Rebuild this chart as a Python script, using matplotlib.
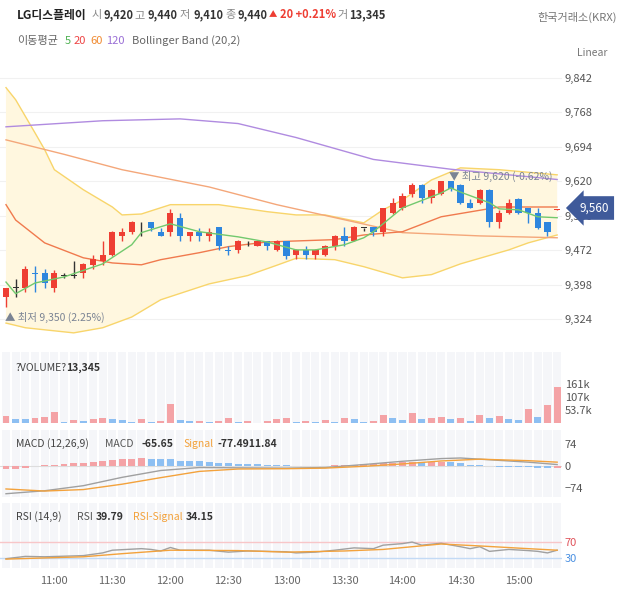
import numpy as np
import matplotlib.pyplot as plt

plt.rcParams['font.family'] = ['Noto Sans CJK KR', 'DejaVu Sans']

# 5-minute candles, 10:35 ~ 15:20
opens = [9372, 9391, 9392, 9423, 9423, 9391, 9418, 9418, 9423, 9441,
         9450, 9462, 9502, 9512, 9532, 9532, 9512, 9512, 9541, 9502,
         9512, 9502, 9523, 9473, 9472, 9491, 9482, 9492, 9473, 9492,
         9462, 9473, 9462, 9462, 9482, 9503, 9493, 9520, 9522, 9511,
         9553, 9562, 9592, 9612, 9584, 9593, 9620, 9612, 9573, 9573,
         9602, 9532, 9553, 9582, 9562, 9553, 9532, 9558]
highs = [9391, 9410, 9439, 9439, 9432, 9430, 9423, 9450, 9445, 9462,
         9492, 9514, 9521, 9534, 9532, 9532, 9521, 9560, 9552, 9512,
         9521, 9521, 9523, 9482, 9494, 9492, 9492, 9492, 9494, 9492,
         9475, 9482, 9475, 9484, 9505, 9522, 9524, 9521, 9522, 9563,
         9584, 9596, 9616, 9614, 9604, 9620, 9620, 9614, 9582, 9604,
         9604, 9559, 9582, 9584, 9563, 9562, 9532, 9560]
lows = [9350, 9372, 9382, 9382, 9392, 9382, 9413, 9413, 9413, 9432,
        9441, 9460, 9491, 9507, 9502, 9514, 9502, 9503, 9492, 9492,
        9492, 9492, 9473, 9462, 9466, 9482, 9482, 9472, 9470, 9453,
        9453, 9453, 9453, 9460, 9473, 9482, 9491, 9513, 9503, 9502,
        9551, 9559, 9586, 9573, 9573, 9591, 9600, 9571, 9562, 9571,
        9523, 9519, 9551, 9551, 9531, 9518, 9503, 9558]
closes = [9391, 9391, 9432, 9421, 9403, 9423, 9418, 9418, 9443, 9454,
          9462, 9512, 9512, 9532, 9532, 9521, 9502, 9552, 9502, 9512,
          9502, 9512, 9482, 9471, 9492, 9491, 9492, 9482, 9492, 9460,
          9473, 9462, 9473, 9482, 9503, 9493, 9522, 9520, 9511, 9562,
          9573, 9589, 9612, 9584, 9602, 9620, 9603, 9573, 9562, 9602,
          9532, 9553, 9573, 9553, 9553, 9520, 9512, 9560]

volume = [28, 17, 17, 21, 24, 45, 6, 13, 10, 17, 21, 17, 13, 6, 17, 6, 10, 80,
          13, 10, 10, 6, 10, 21, 6, 10, 1, 10, 17, 21, 6, 10, 6, 13, 6, 21,
          17, 6, 10, 35, 21, 13, 41, 17, 21, 25, 17, 21, 10, 35, 21, 28, 17,
          13, 59, 25, 75, 152]
vol_up = [1, 0, 0, 1, 1, 1, 0, 1, 0, 1, 1, 0, 0, 0, 1, 0, 1, 1, 0, 0, 1, 0,
          1, 1, 0, 1, 0, 1, 1, 1, 0, 1, 0, 1, 0, 1, 0, 0, 1, 1, 0, 0, 1, 0,
          1, 1, 0, 1, 0, 1, 0, 1, 0, 0, 1, 0, 1, 1]

# moving averages / bollinger (candle index, price)
ma5_idx = [0, 1, 3, 6, 10, 13, 14, 17, 20, 24, 27, 30, 32, 35, 37, 38, 41,
           45, 46, 47, 50, 51, 53, 55, 57]
ma5_val = [9404, 9379, 9402, 9415, 9443, 9484, 9510, 9529, 9512, 9501, 9490,
           9473, 9473, 9484, 9499, 9512, 9563, 9595, 9606, 9597, 9574, 9561,
           9559, 9544, 9542]
ma20_idx = [0, 1, 4, 8, 11, 14, 16, 20, 23, 27, 34, 37, 41, 45, 51, 57]
ma20_val = [9570, 9537, 9488, 9456, 9445, 9441, 9452, 9467, 9480, 9490, 9495,
            9505, 9512, 9544, 9565, 9565]
ma60_idx = [0, 6, 12, 21, 28, 36, 41, 49, 57]
ma60_val = [9709, 9678, 9645, 9608, 9570, 9533, 9510, 9503, 9499]
ma120_idx = [0, 10, 18, 24, 30, 38, 46, 57]
ma120_val = [9737, 9750, 9754, 9744, 9714, 9667, 9646, 9624]
bb_up_idx = [0, 1, 3, 4, 5, 8, 11, 12, 14, 17, 22, 27, 30, 33, 37, 39, 41,
             44, 47, 51, 57]
bb_up_val = [9821, 9795, 9724, 9688, 9645, 9602, 9565, 9548, 9550, 9570, 9570,
             9555, 9548, 9548, 9531, 9559, 9580, 9623, 9649, 9645, 9634]
bb_lo_idx = [0, 2, 7, 10, 13, 16, 21, 25, 28, 30, 34, 37, 41, 44, 47, 52, 54, 57]
bb_lo_val = [9316, 9306, 9295, 9306, 9329, 9366, 9400, 9418, 9440, 9455, 9452,
             9437, 9413, 9420, 9443, 9473, 9488, 9505]

# MACD
macd_hist = [-11, -11, -6, 1, 3, 5, 7, 9, 11, 14, 17, 20, 23, 25, 28, 25, 23,
             22, 18, 17, 16, 14, 10, 9, 8, 7, 6, 5, 3, 2, 1, 0.5, 0.5, 0.5, 2,
             3, 5, 6, 7, 9, 10, 12, 14, 13, 13, 14, 12, 10, 5, 2, -1, -2, -2,
             -3, -4, -6, -7, -5]
hist_up = [1, 1, 1, 1, 1, 1, 1, 1, 1, 1, 1, 1, 1, 1, 1, 0, 0, 0, 0, 0, 0, 0,
           0, 0, 0, 0, 0, 0, 0, 0, 0, 0, 0, 1, 1, 1, 1, 1, 1, 1, 1, 1, 1, 0,
           1, 1, 0, 0, 0, 0, 0, 0, 0, 0, 0, 0, 0, 1]
macd_idx = [0, 4, 8, 12, 16, 20, 24, 29, 33, 37, 41, 45, 47, 49, 54, 57]
macd_val = [-93, -83, -66, -38, -15, -5, -6, -7, -5, 5, 16, 25, 27, 23, 13, 5]
signal_val = [-77, -84, -79, -61, -39, -18, -10, -9, -7, -1, 7, 17, 20, 23, 18, 13]

# RSI
rsi_idx = [0, 2, 4, 8, 10, 11, 14, 15, 16, 17, 18, 21, 23, 25, 29, 30, 32, 34,
           36, 38, 39, 41, 42, 43, 45, 47, 48, 49, 50, 52, 54, 55, 56, 57]
rsi_val = [28, 34, 33, 36, 43, 50, 54, 52, 48, 57, 50, 50, 45, 48, 46, 43, 45,
           50, 56, 54, 63, 67, 71, 63, 68, 59, 54, 59, 47, 52, 49, 47, 43, 50]
rsi_sig_idx = [0, 8, 12, 17, 24, 29, 35, 39, 45, 49, 54, 57]
rsi_sig_val = [27, 33, 41, 50, 49, 45, 48, 52, 66, 61, 54, 50]

n = len(opens)
x = np.arange(n)
start = 10 * 60 + 35
minutes = [start + 5 * i for i in range(n)]
tick_pos = [i for i, m in enumerate(minutes) if m % 30 == 0]
tick_lab = ['%d:%02d' % divmod(minutes[i], 60) for i in tick_pos]

RED, BLUE, DOJI = '#ee3e33', '#2e86de', '#333333'
VRED, VBLUE = '#f4a3a6', '#8dbff2'
STRIPE = '#f5f6f9'

W, H = 629, 592
fig = plt.figure(figsize=(W / 100, H / 100), dpi=100)


def panel(top, bottom):
    ax = fig.add_axes([0, 1 - bottom / H, 562 / W, (bottom - top) / H])
    for s in ax.spines.values():
        s.set_visible(False)
    ax.set_xlim(-0.62, n - 0.5)
    ax.yaxis.tick_right()
    ax.tick_params(length=0, labelsize=8, labelcolor='#555555', pad=2)
    ax.set_xticks([])
    return ax


def stripes(ax):
    for i in x:
        ax.axvspan(i - 0.42, i + 0.42, color=STRIPE, lw=0, zorder=0)


def txt(xp, yp, s, **kw):
    kw.setdefault('size', 8)
    kw.setdefault('color', '#333333')
    fig.text(xp / W, 1 - yp / H, s, va='center', ha=kw.pop('ha', 'left'), **kw)


# ---- price panel
ax_p = panel(62, 345)
ax_p.set_ylim(9269, 9876)
pticks = [9324, 9398, 9472, 9546, 9620, 9694, 9768, 9842]
ax_p.set_yticks(pticks)
ax_p.set_yticklabels([f'{v:,}' for v in pticks])
ax_p.grid(axis='y', color='#f1f1f1', lw=0.8, zorder=0)
ax_p.set_axisbelow(True)

ax_p.fill(np.r_[bb_up_idx, bb_lo_idx[::-1]], np.r_[bb_up_val, bb_lo_val[::-1]],
          color='#fff7df', lw=0, zorder=1)
ax_p.plot(bb_up_idx, bb_up_val, color='#f8d56b', lw=1, zorder=2)
ax_p.plot(bb_lo_idx, bb_lo_val, color='#f8d56b', lw=1, zorder=2)
ax_p.plot(ma120_idx, ma120_val, color='#b08be0', lw=1, zorder=2)
ax_p.plot(ma60_idx, ma60_val, color='#f4a77a', lw=1, zorder=2)
ax_p.plot(ma20_idx, ma20_val, color='#f07a4e', lw=1, zorder=2)
ax_p.plot(ma5_idx, ma5_val, color='#72c96e', lw=1, zorder=5)

o = np.array(opens)
c = np.array(closes)
colors = [RED if b > a else BLUE if b < a else DOJI for a, b in zip(opens, closes)]
ax_p.vlines(x, lows, highs, colors=colors, lw=1, zorder=3)
ax_p.bar(x, np.maximum(np.abs(c - o), 1.6), bottom=np.minimum(o, c), width=0.64,
         color=colors, zorder=4)

lo_i = int(np.argmin(lows))
hi_i = int(np.argmax(highs))
ax_p.annotate(f'▲ 최저 {lows[lo_i]:,} (2.25%)', xy=(lo_i, lows[lo_i]),
              xytext=(-1, -10), textcoords='offset pixels', size=7.5,
              color='#7b8494', va='center', ha='left')
ax_p.annotate(f'▼ 최고 {highs[hi_i]:,} (-0.62%)', xy=(46, highs[hi_i]),
              xytext=(-2, 5), textcoords='offset pixels', size=7.5,
              color='#7b8494', va='center', ha='left')

fig.text(594 / W, 1 - 208 / H, f'{closes[-1]:,}', color='white', size=8.5,
         ha='center', va='center',
         bbox=dict(boxstyle='larrow,pad=0.45', fc='#3f5a9a', ec='none'))

# ---- volume panel
ax_v = panel(352, 423)
stripes(ax_v)
ax_v.set_ylim(0, 296)
ax_v.bar(x, volume, width=0.72, color=[VRED if u else VBLUE for u in vol_up], zorder=2)
ax_v.set_yticks([53.7, 107, 161])
ax_v.set_yticklabels(['53.7k', '107k', '161k'])

# ---- MACD panel
ax_m = panel(430, 497)
stripes(ax_m)
ax_m.set_ylim(-104, 121)
ax_m.axhline(0, color='#dddddd', lw=0.8, zorder=1)
ax_m.bar(x, macd_hist, width=0.72, color=[VRED if u else VBLUE for u in hist_up], zorder=2)
ax_m.plot(macd_idx, macd_val, color='#a0a0a0', lw=1, zorder=3)
ax_m.plot(macd_idx, signal_val, color='#f3a23c', lw=1, zorder=3)
ax_m.set_yticks([-74, 0, 74])

# ---- RSI panel
ax_r = panel(503, 568)
stripes(ax_r)
ax_r.set_ylim(4, 172)
ax_r.axhline(70, color='#f8c6c8', lw=1, zorder=1)
ax_r.axhline(30, color='#c3daf5', lw=1, zorder=1)
ax_r.plot(rsi_idx, rsi_val, color='#a0a0a0', lw=1, zorder=3)
ax_r.plot(rsi_sig_idx, rsi_sig_val, color='#f3a23c', lw=1, zorder=3)
ax_r.set_yticks([30, 70])
ax_r.set_yticklabels(['30', '70'])
for lab, col in zip(ax_r.get_yticklabels(), ['#4a90e2', '#e0525a']):
    lab.set_color(col)
ax_r.set_xticks(tick_pos)
ax_r.set_xticklabels(tick_lab)
ax_r.tick_params(axis='x', length=0, pad=6, labelsize=8, labelcolor='#666666')

# ---- header texts
txt(17, 15, 'LG디스플레이', weight='bold', size=8.5, color='#222222')
txt(92, 15, '시', color='#888888')
txt(104, 15, '9,420', weight='bold')
txt(134, 15, '고', color='#888888')
txt(148, 15, '9,440', weight='bold')
txt(180, 15, '저', color='#888888')
txt(193, 15, '9,410', weight='bold')
txt(225, 15, '종', color='#888888')
txt(238, 15, '9,440', weight='bold')
txt(269, 15, '▲', color=RED, size=6)
txt(280, 15, '20 +0.21%', color=RED, weight='bold')
txt(337, 15, '거', color='#888888')
txt(349, 15, '13,345', weight='bold')
txt(617, 17, '한국거래소(KRX)', color='#777777', ha='right')

txt(17, 41, '이동평균', color='#666666')
txt(65, 41, '5', color='#4cb050')
txt(74, 41, '20', color='#ee4444')
txt(90, 41, '60', color='#f08a30')
txt(106, 41, '120', color='#9a6fd6')
txt(132, 41, 'Bollinger Band (20,2)', color='#666666')
txt(577, 53, 'Linear', color='#777777', size=7.5)

txt(16, 368, '?VOLUME?', color='#444444', size=7.5)
txt(66, 368, '13,345', weight='bold', size=7.5)
txt(16, 444, 'MACD (12,26,9)', color='#444444', size=7.5)
txt(105, 444, 'MACD', color='#555555', size=7.5)
txt(142, 444, '-65.65', weight='bold', size=7.5)
txt(183, 444, 'Signal', color='#f3a23c', size=7.5)
txt(217, 444, '-77.4911.84', weight='bold', size=7.5)
txt(16, 517, 'RSI (14,9)', color='#444444', size=7.5)
txt(77, 517, 'RSI', color='#555555', size=7.5)
txt(96, 517, '39.79', weight='bold', size=7.5)
txt(133, 517, 'RSI-Signal', color='#f3a23c', size=7.5)
txt(186, 517, '34.15', weight='bold', size=7.5)

fig.savefig('out.png', dpi=100)
